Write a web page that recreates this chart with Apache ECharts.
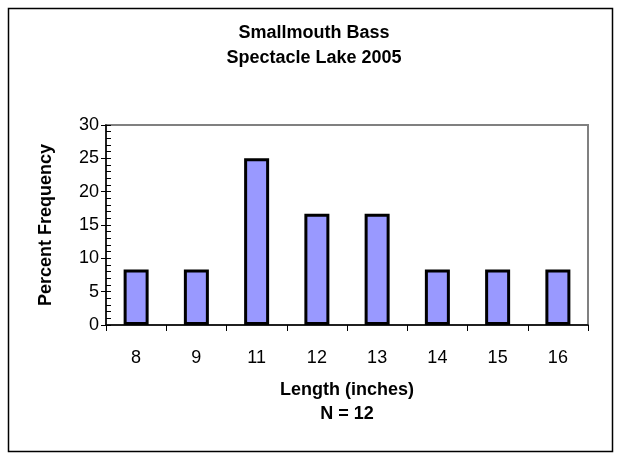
<!DOCTYPE html>
<html lang="en">
<head>
  <meta charset="UTF-8">
  <title>Smallmouth Bass</title>
  <style>
    * { margin: 0; padding: 0; }
    /* 图表容器 */
    #main { width: 628px; height: 460px; background: #fff; }
  </style>
</head>
<body>
  <div id="main"></div>
  <script src="https://cdn.jsdelivr.net/npm/echarts@6/dist/echarts.min.js"></script>
  <script>
    // 数据
    var lengths = ['8', '9', '11', '12', '13', '14', '15', '16'];
    var percentFreq = [8.33, 8.33, 25, 16.67, 16.67, 8.33, 8.33, 8.33];
    var yTicks = [0, 5, 10, 15, 20, 25, 30];

    var myChart = echarts.init(document.getElementById('main'));
    var font = '"Liberation Sans", Arial, sans-serif';

    var option = {
      animation: false,
      backgroundColor: '#fff',
      title: {
        text: 'Smallmouth Bass\nSpectacle Lake 2005',
        left: 'center',
        top: 16,
        textStyle: {
          fontFamily: font,
          fontSize: 18,
          fontWeight: 'bold',
          color: '#000',
          lineHeight: 25
        }
      },
      // 外框
      graphic: [{
        type: 'rect',
        shape: { x: 8.5, y: 8.5, width: 604, height: 443 },
        style: { fill: 'none', stroke: '#000', lineWidth: 1.5 },
        silent: true
      }],
      grid: {
        left: 106,
        right: 40,
        top: 125,
        bottom: 135,
        show: true,
        borderColor: '#808080',
        borderWidth: 2,
        backgroundColor: '#fff'
      },
      xAxis: {
        type: 'category',
        data: lengths,
        name: 'Length (inches)\nN = 12',
        nameLocation: 'middle',
        nameGap: 53,
        nameTextStyle: {
          fontFamily: font, fontSize: 18, fontWeight: 'bold', color: '#000', lineHeight: 24
        },
        axisLine: { lineStyle: { color: '#000', width: 1.5 } },
        axisTick: { show: true, length: 6, lineStyle: { color: '#000' } },
        axisLabel: { fontFamily: font, fontSize: 18, color: '#000', margin: 24 },
        splitLine: { show: false }
      },
      yAxis: [{
        type: 'value',
        min: yTicks[0],
        max: yTicks[yTicks.length - 1],
        interval: 5,
        name: 'Percent Frequency',
        nameLocation: 'middle',
        nameGap: 51,
        nameTextStyle: { fontFamily: font, fontSize: 18, fontWeight: 'bold', color: '#000' },
        axisLine: { show: true, lineStyle: { color: '#000', width: 1.5 } },
        axisTick: { show: true, length: 5, lineStyle: { color: '#000' } },
        axisLabel: { fontFamily: font, fontSize: 18, color: '#000', margin: 7 },
        splitLine: { show: false }
      }, {
        // 次刻度 朝内
        type: 'value',
        position: 'left',
        min: yTicks[0],
        max: yTicks[yTicks.length - 1],
        interval: 5,
        axisLine: { show: false },
        axisTick: { show: true, inside: true, length: 5, lineStyle: { color: '#000' } },
        minorTick: { show: true, splitNumber: 5, length: 5, lineStyle: { color: '#000' } },
        axisLabel: { show: false },
        splitLine: { show: false }
      }],
      series: [{
        type: 'bar',
        data: percentFreq,
        barWidth: 25,
        itemStyle: {
          color: '#9999FF',
          borderColor: '#000',
          borderWidth: 3
        }
      }]
    };
    myChart.setOption(option);
  </script>
</body>
</html>
